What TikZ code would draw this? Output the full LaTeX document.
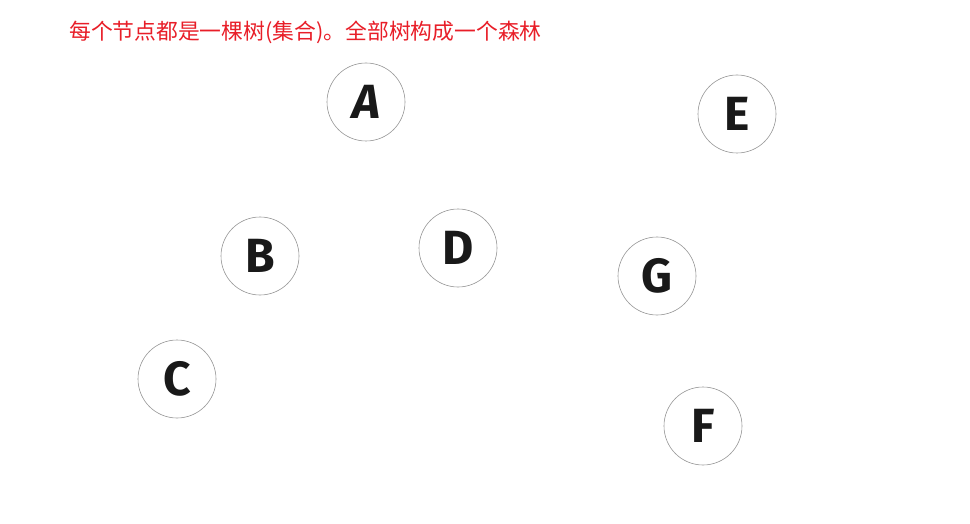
\documentclass[tikz,border=0pt]{standalone}
\usepackage{fontspec}
\setmainfont{Fira Sans}
\newfontfamily\cjk{Noto Sans CJK SC}
\definecolor{titlered}{RGB}{232,30,40}
\definecolor{ringgray}{RGB}{150,150,150}
\begin{document}
\begin{tikzpicture}[x=1pt,y=-1pt,
  setnode/.style={circle,draw=ringgray,line width=0.6pt,minimum size=78pt,inner sep=0pt,
    font=\fontsize{48}{48}\selectfont\bfseries,text=black!90}]
\useasboundingbox (0,0) rectangle (970,524);
\node[anchor=west,text=titlered,font=\cjk\fontsize{21.8}{24}\selectfont,inner sep=0pt] (title) at (69,32) {每个节点都是一棵树(集合)。全部树构成一个森林};
\node[setnode] (A) at (366,102) {\itshape A};
\node[setnode] (E) at (737,114) {E};
\node[setnode] (B) at (260,256) {B};
\node[setnode] (D) at (458,248) {D};
\node[setnode] (G) at (657,276) {G};
\node[setnode] (C) at (177,379) {C};
\node[setnode] (F) at (703,426) {F};
\end{tikzpicture}
\end{document}
